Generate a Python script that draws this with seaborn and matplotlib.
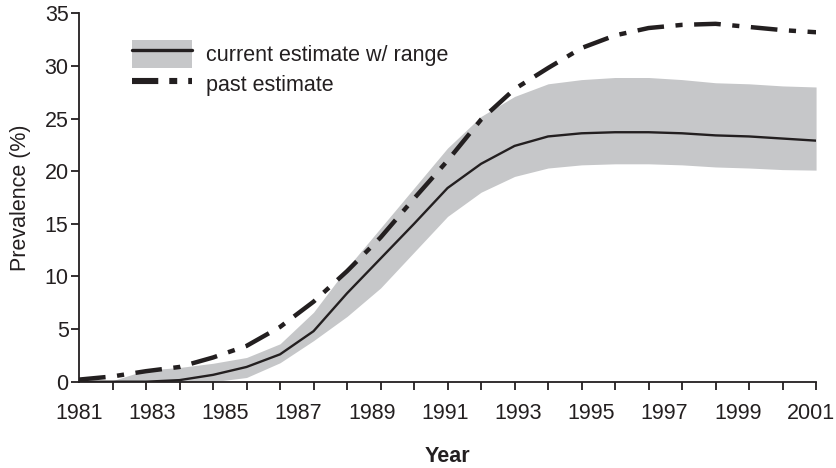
import matplotlib
matplotlib.use("Agg")
import pandas as pd
import seaborn as sns
import matplotlib.pyplot as plt
from matplotlib.patches import Patch
from matplotlib.lines import Line2D

# data points sit on the 23 axis ticks (category positions)
point = [0, 1, 2, 3, 4, 5, 6, 7, 8, 9, 10, 11, 12, 13, 14, 15, 16, 17, 18, 19, 20, 21, 22]

current = [0.0, 0.0, 0.0, 0.15, 0.65, 1.4, 2.6, 4.8, 8.4, 11.7, 15.0, 18.4,
           20.7, 22.4, 23.3, 23.6, 23.7, 23.7, 23.6, 23.4, 23.3, 23.1, 22.9]
upper = [0.0, 0.1, 1.1, 1.35, 1.75, 2.3, 3.6, 6.6, 10.8, 14.6, 18.4, 22.2,
         25.2, 27.1, 28.3, 28.7, 28.9, 28.9, 28.7, 28.4, 28.3, 28.1, 28.0]
lower = [0.0, 0.0, 0.0, 0.0, 0.0, 0.4, 1.8, 3.9, 6.2, 8.9, 12.3, 15.7,
         18.0, 19.5, 20.3, 20.6, 20.7, 20.7, 20.6, 20.4, 20.3, 20.15, 20.1]
past = [0.2, 0.5, 1.0, 1.4, 2.3, 3.4, 5.2, 7.6, 10.5, 13.7, 17.4, 21.0,
        24.9, 27.8, 29.8, 31.7, 32.9, 33.6, 33.9, 34.0, 33.7, 33.4, 33.2]

year_labels = ['1981', '1983', '1985', '1987', '1989', '1991',
               '1993', '1995', '1997', '1999', '2001']
label_pos = [0, 2.185, 4.37, 6.555, 8.74, 10.925, 13.11, 15.295, 17.48, 19.665, 21.85]

df = pd.DataFrame({'point': point, 'current': current, 'upper': upper,
                   'lower': lower, 'past': past})

sns.set_style("ticks")
plt.rcParams['font.family'] = ['Liberation Sans', 'DejaVu Sans']

band_color = '#c6c7c9'
ink = '#231f20'
fs = 15.5

fig = plt.figure(figsize=(8.37, 4.68), dpi=100)
ax = fig.add_axes([0.0944, 0.1844, 0.8806, 0.7872])

ax.fill_between(df['point'], df['lower'], df['upper'], color=band_color, lw=0, zorder=1)
sns.lineplot(data=df, x='point', y='current', color=ink, lw=1.7, ax=ax, zorder=3)
sns.lineplot(data=df, x='point', y='past', color=ink, lw=3.2, ax=ax, zorder=4,
             linestyle=(0, (6, 2.6, 1.6, 2.6)))
for ln in ax.lines[-1:]:
    ln.set_solid_capstyle('butt')
    ln.set_dash_capstyle('butt')

ax.set_xlim(0, 22)
ax.set_ylim(0, 35)
ax.set_yticks([0, 5, 10, 15, 20, 25, 30, 35])
ax.set_xticks(label_pos, year_labels)
ax.set_xticks(point, minor=True)
ax.tick_params(axis='x', which='major', length=0, pad=15, labelsize=fs, colors=ink)
ax.tick_params(axis='x', which='minor', length=5.5, width=1.3, direction='out', color=ink)
ax.tick_params(axis='y', length=5.5, width=1.3, direction='out', labelsize=fs,
               colors=ink, pad=2)
for s in ['left', 'bottom']:
    ax.spines[s].set_linewidth(1.3)
    ax.spines[s].set_color(ink)
sns.despine(ax=ax)

ax.set_ylabel('Prevalence (%)', fontsize=fs, color=ink, labelpad=10)
ax.set_xlabel('Year', fontsize=fs, fontweight='bold', color=ink, labelpad=16)

h_current = (Patch(facecolor=band_color, edgecolor='none'),
             Line2D([], [], color=ink, lw=2.4))
h_past = Line2D([], [], color=ink, lw=4.4, linestyle=(0, (4.3, 1.8, 1.3, 1.8)),
                dash_capstyle='butt')
ax.legend([h_current, h_past], ['current estimate w/ range', 'past estimate'],
          loc='upper left', bbox_to_anchor=(0.045, 0.98), frameon=False,
          fontsize=fs, handlelength=2.8, handleheight=1.6, handletextpad=0.65,
          labelspacing=0.12, labelcolor=ink)

fig.savefig('out.png', dpi=100)
